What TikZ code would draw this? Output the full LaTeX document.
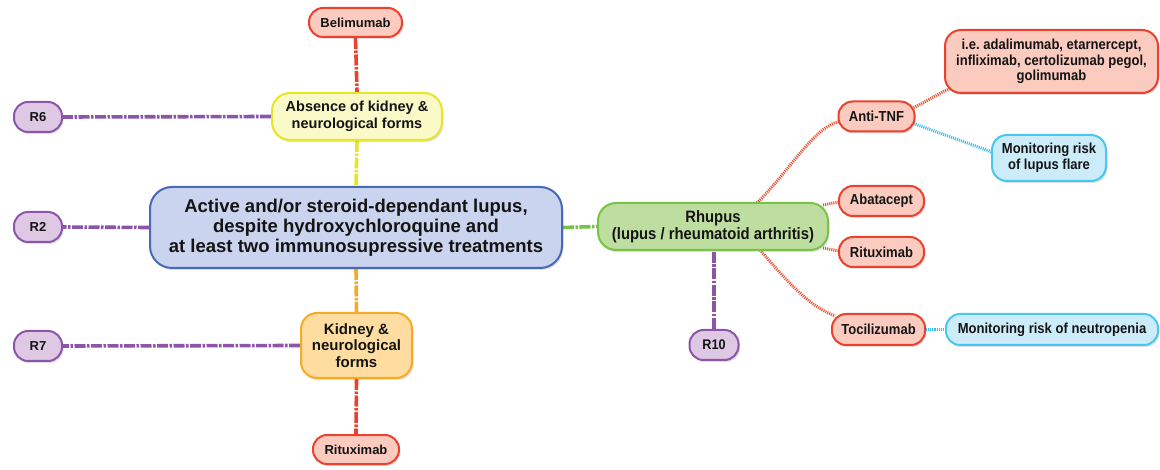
\documentclass[tikz,border=0pt]{standalone}
\usepackage{fontspec}
\setmainfont{Liberation Sans}
\newfontfamily\nar{Liberation Sans}[FakeStretch=0.9]
\usetikzlibrary{shadows,backgrounds,calc}
\definecolor{redfill}{RGB}{251,203,192}
\definecolor{redline}{RGB}{235,65,45}
\definecolor{yelfill}{RGB}{250,250,200}
\definecolor{yelline}{RGB}{232,228,40}
\definecolor{orfill}{RGB}{255,221,160}
\definecolor{orline}{RGB}{245,170,40}
\definecolor{purfill}{RGB}{222,200,228}
\definecolor{purline}{RGB}{140,85,170}
\definecolor{mainfill}{RGB}{202,212,238}
\definecolor{mainline}{RGB}{70,105,185}
\definecolor{grnfill}{RGB}{190,222,160}
\definecolor{grnline}{RGB}{120,195,70}
\definecolor{blufill}{RGB}{204,236,250}
\definecolor{bluline}{RGB}{70,200,240}
\definecolor{txt}{RGB}{20,20,20}
\definecolor{dotred}{RGB}{240,85,55}
\definecolor{dotblue}{RGB}{60,190,240}
\tikzset{
  box/.style={draw, line width=2pt, align=center, inner sep=0pt, text=txt,
    font=\bfseries, rounded corners=14pt,
    drop shadow={opacity=0.25, shadow xshift=1.5pt, shadow yshift=-2pt}},
  redbox/.style={box, fill=redfill, draw=redline},
  purbox/.style={box, fill=purfill, draw=purline, minimum width=48pt, minimum height=30pt, font=\fontsize{13}{15}\selectfont\bfseries},
  bluebox/.style={box, fill=blufill, draw=bluline},
  dashdot/.style={line width=3.6pt, dash pattern=on 11pt off 1.5pt on 2.5pt off 1.5pt},
  dotline/.style={line width=3pt, dash pattern=on 1.1pt off 1pt, dotred},
  dotblu/.style={line width=3pt, dash pattern=on 1.1pt off 1pt, dotblue},
}
\begin{document}
\begin{tikzpicture}[x=1pt,y=-1pt]
\useasboundingbox (0,0) rectangle (1160,470);
% left side
\node[redbox, minimum width=93pt, minimum height=29pt, font=\fontsize{13}{15}\selectfont\bfseries] (bel) at (355.5,22.5) {Belimumab};
\node[box, fill=yelfill, draw=yelline, minimum width=170pt, minimum height=47pt, rounded corners=18pt, font=\fontsize{14.5}{16.5}\selectfont\bfseries] (abs) at (357,116.5) {Absence of kidney \&\\neurological forms};
\node[purbox] (r6) at (38,117) {R6};
\node[box, fill=mainfill, draw=mainline, minimum width=412pt, minimum height=81pt, rounded corners=22pt, font=\fontsize{18.5}{20}\selectfont\bfseries] (main) at (356,227.5) {Active and/or steroid-dependant lupus,\\despite hydroxychloroquine and\\at least two immunosupressive treatments};
\node[purbox] (r2) at (38,227) {R2};
\node[box, fill=orfill, draw=orline, minimum width=111pt, minimum height=65pt, rounded corners=16pt, font=\fontsize{15}{16.5}\selectfont\bfseries] (kid) at (356.5,345.5) {Kidney \&\\neurological\\forms};
\node[purbox] (r7) at (38,346) {R7};
\node[redbox, minimum width=86pt, minimum height=29pt, font=\fontsize{13}{15}\selectfont\bfseries] (ritb) at (356,449.5) {Rituximab};
% right side
\node[box, fill=grnfill, draw=grnline, minimum width=230pt, minimum height=47pt, rounded corners=18pt, font=\nar\fontsize{16.5}{17}\selectfont\bfseries] (rhu) at (713,226.5) {Rhupus\\(lupus / rheumatoid arthritis)};
\node[purbox, minimum width=49pt, font=\nar\fontsize{14}{15}\selectfont\bfseries] (r10) at (714,345) {R10};
\node[redbox, minimum width=76pt, minimum height=30pt, font=\nar\fontsize{14.5}{15}\selectfont\bfseries] (atnf) at (876.5,116.5) {Anti-TNF};
\node[redbox, minimum width=213pt, minimum height=63pt, rounded corners=16pt, font=\nar\fontsize{14.5}{15.5}\selectfont\bfseries] (ie) at (1051.5,61.5) {i.e.\ adalimumab, etarnercept,\\infliximab, certolizumab pegol,\\golimumab};
\node[bluebox, minimum width=114pt, minimum height=46pt, rounded corners=15pt, font=\nar\fontsize{14.5}{16}\selectfont\bfseries] (mon1) at (1049,158) {Monitoring risk\\of lupus flare};
\node[redbox, minimum width=85pt, minimum height=30pt, font=\nar\fontsize{14.5}{15}\selectfont\bfseries] (aba) at (881.5,201) {Abatacept};
\node[redbox, minimum width=85pt, minimum height=30pt, font=\nar\fontsize{14.5}{15}\selectfont\bfseries] (ritr) at (881.5,252) {Rituximab};
\node[redbox, minimum width=93pt, minimum height=31pt, font=\nar\fontsize{14.5}{15}\selectfont\bfseries] (toc) at (878.5,329.5) {Tocilizumab};
\node[bluebox, minimum width=212pt, minimum height=31pt, font=\nar\fontsize{14.5}{15}\selectfont\bfseries] (mon2) at (1052,329.5) {Monitoring risk of neutropenia};
\begin{pgfonlayer}{background}
\draw[dashdot, redline] (bel.south) -- (abs.north);
\draw[dashdot, purline] (abs.west) -- (r6.east);
\draw[dashdot, yelline] (abs.south) -- (main.north);
\draw[dashdot, purline] (main.west) -- (r2.east);
\draw[dashdot, orline] (main.south) -- (kid.north);
\draw[dashdot, purline] (kid.west) -- (r7.east);
\draw[dashdot, redline] (kid.south) -- (ritb.north);
\draw[dashdot, grnline] (main.east) -- (rhu.west);
\draw[dashdot, purline] (r10.north) -- (r10.north |- rhu.south);
\draw[dotline] ($(rhu.north)+(44,1)$) .. controls (790,170) and (815,126) .. ($(atnf.west)+(2,5)$);
\draw[dotline] ($(rhu.north east)+(-6,3)$) -- ($(aba.west)+(1,1)$);
\draw[dotline] ($(rhu.south east)+(-6,-3)$) -- ($(ritr.west)+(1,-1)$);
\draw[dotline] ($(rhu.south)+(47,-1)$) .. controls (782,275) and (806,305) .. ($(toc.north west)+(4,3)$);
\draw[dotline] ($(atnf.east)+(-2,-9)$) .. controls (930,100) and (940,92) .. ($(ie.south west)+(8,-6)$);
\draw[dotblu] ($(atnf.east)+(-2,7)$) -- ($(mon1.west)+(1,-6)$);
\draw[dotblu] (toc.east) -- (mon2.west);
\end{pgfonlayer}
\end{tikzpicture}
\end{document}
